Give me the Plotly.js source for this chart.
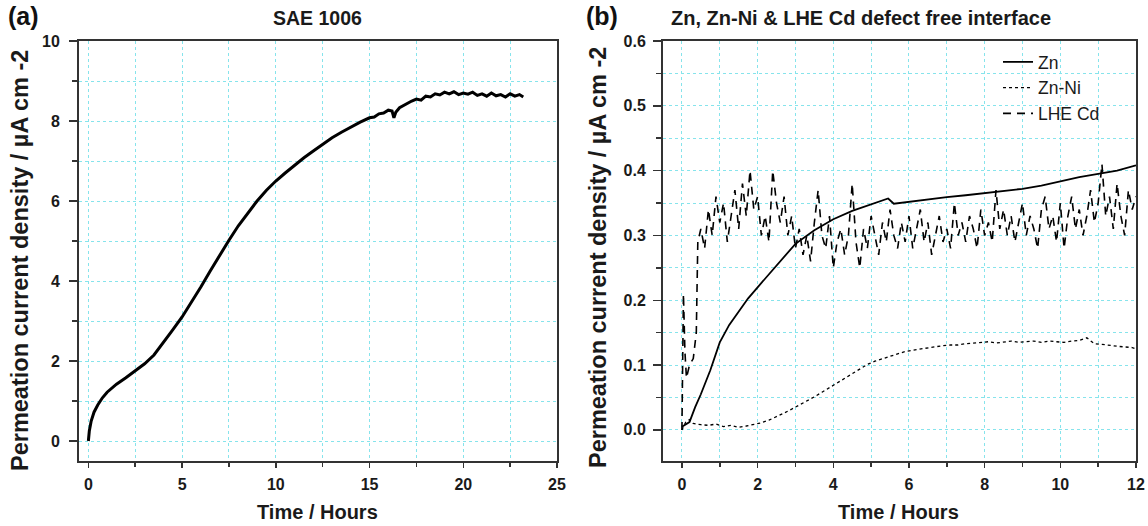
<!DOCTYPE html>
<html><head><meta charset="utf-8">
<script src="https://cdn.plot.ly/plotly-3.0.1.min.js"></script>
<style>html,body{margin:0;padding:0;background:#fff}#chart{width:1148px;height:526px}</style>
</head><body><div id="chart"></div>
<script>
// Panel (a) SAE 1006
const saeTime = [0,0.05,0.15,0.3,0.5,0.75,1,1.5,2,2.5,3,3.5,4,4.5,5,5.5,6,6.5,7,7.5,8,8.5,9,9.5,10,10.5,11,11.5,12,12.5,13,13.5,14,14.5,15,15.25,15.5,15.75,16,16.2,16.3,16.4,16.6,16.8,17,17.25,17.5,17.75,18,18.25,18.5,18.75,19,19.25,19.5,19.75,20,20.25,20.5,20.75,21,21.25,21.5,21.75,22,22.25,22.5,22.75,23,23.2];
const saeCurrent = [0,0.25,0.5,0.72,0.9,1.08,1.22,1.42,1.58,1.75,1.93,2.15,2.45,2.78,3.1,3.47,3.85,4.25,4.65,5.02,5.38,5.7,6.0,6.27,6.5,6.7,6.9,7.08,7.25,7.42,7.58,7.72,7.85,7.97,8.08,8.1,8.18,8.2,8.27,8.25,8.08,8.22,8.33,8.38,8.45,8.5,8.55,8.52,8.62,8.6,8.68,8.65,8.72,8.68,8.73,8.66,8.7,8.67,8.72,8.64,8.68,8.62,8.7,8.63,8.66,8.6,8.68,8.62,8.66,8.6];

// Panel (b)
const znTime = [0,0.1,0.2,0.35,0.5,0.75,1.0,1.25,1.5,1.75,2.0,2.5,3.0,3.5,4.0,4.5,5.0,5.3,5.45,5.6,6.0,6.5,7.0,7.5,8.0,8.5,9.0,9.5,10.0,10.5,11.0,11.5,12.0];
const znCurrent = [0.005,0.008,0.012,0.035,0.055,0.092,0.135,0.162,0.183,0.203,0.22,0.253,0.287,0.308,0.325,0.338,0.348,0.353,0.357,0.349,0.352,0.356,0.359,0.362,0.365,0.368,0.372,0.377,0.384,0.39,0.395,0.4,0.408];

const znniTime = [0,0.1,0.2,0.3,0.5,0.7,0.9,1.1,1.3,1.5,1.7,1.9,2.1,2.3,2.5,2.7,2.9,3.1,3.3,3.5,3.7,3.9,4.1,4.3,4.5,4.7,4.9,5.1,5.3,5.5,5.7,5.9,6.1,6.3,6.5,6.7,6.9,7.1,7.3,7.5,7.7,7.9,8.1,8.3,8.5,8.7,8.9,9.1,9.3,9.5,9.7,9.9,10.1,10.3,10.5,10.7,10.9,11.1,11.3,11.5,11.7,11.9,12.0];
const znniCurrent = [0.0,0.012,0.016,0.01,0.008,0.007,0.009,0.005,0.007,0.004,0.006,0.008,0.011,0.015,0.02,0.026,0.032,0.038,0.045,0.051,0.058,0.065,0.072,0.079,0.087,0.094,0.101,0.106,0.11,0.114,0.117,0.121,0.123,0.125,0.126,0.128,0.13,0.131,0.131,0.133,0.134,0.135,0.136,0.134,0.136,0.137,0.135,0.136,0.137,0.135,0.137,0.136,0.135,0.137,0.138,0.142,0.133,0.132,0.13,0.129,0.128,0.127,0.125];

const cdTime = [0,0.04,0.08,0.12,0.2,0.3,0.38,0.42,0.5,0.6,0.7,0.8,0.9,1.0,1.1,1.2,1.3,1.4,1.5,1.6,1.7,1.8,1.9,2.0,2.1,2.2,2.3,2.4,2.5,2.6,2.7,2.8,2.9,3.0,3.1,3.2,3.3,3.4,3.5,3.6,3.7,3.8,3.9,4.0,4.1,4.2,4.3,4.4,4.5,4.6,4.7,4.8,4.9,5.0,5.1,5.2,5.3,5.4,5.5,5.6,5.7,5.8,5.9,6.0,6.1,6.2,6.3,6.4,6.5,6.6,6.7,6.8,6.9,7.0,7.1,7.2,7.3,7.4,7.5,7.6,7.7,7.8,7.9,8.0,8.1,8.2,8.3,8.4,8.5,8.6,8.7,8.8,8.9,9.0,9.1,9.2,9.3,9.4,9.5,9.6,9.7,9.8,9.9,10.0,10.1,10.2,10.3,10.4,10.5,10.6,10.7,10.8,10.9,11.0,11.1,11.2,11.3,11.4,11.5,11.6,11.7,11.8,11.9,12.0];
const cdCurrent = [0,0.21,0.12,0.08,0.10,0.11,0.15,0.29,0.31,0.28,0.34,0.30,0.36,0.32,0.35,0.29,0.33,0.37,0.31,0.38,0.33,0.40,0.34,0.36,0.30,0.33,0.29,0.40,0.35,0.32,0.36,0.30,0.33,0.28,0.31,0.27,0.30,0.26,0.32,0.37,0.30,0.28,0.33,0.25,0.29,0.31,0.27,0.30,0.38,0.29,0.25,0.31,0.28,0.33,0.30,0.27,0.32,0.29,0.34,0.30,0.28,0.32,0.29,0.33,0.28,0.31,0.34,0.29,0.32,0.27,0.30,0.33,0.29,0.31,0.28,0.35,0.30,0.32,0.29,0.33,0.31,0.28,0.34,0.30,0.32,0.29,0.37,0.31,0.34,0.30,0.33,0.29,0.32,0.35,0.30,0.33,0.31,0.28,0.34,0.36,0.31,0.33,0.29,0.35,0.28,0.33,0.36,0.31,0.34,0.30,0.33,0.37,0.32,0.35,0.41,0.33,0.36,0.31,0.38,0.33,0.30,0.37,0.34,0.36];

const FONT = 'Liberation Sans, Arial, sans-serif';
const GRID = '#86e4ec';
const AX = '#333333';
const TXT = '#1a1a1a';

function axisCommon(extra) {
  return Object.assign({
    showline: true, linecolor: AX, linewidth: 2, mirror: true,
    zeroline: false, showgrid: true, gridcolor: GRID, griddash: 'dot', gridwidth: 1,
    tickfont: {family: FONT, size: 16, color: TXT, weight: 'bold'},
    tickcolor: AX, tickwidth: 1.5, automargin: false, fixedrange: true
  }, extra);
}
function minorX(d) { return {dtick: d, showgrid: true, gridcolor: GRID, griddash: 'dot', ticks: 'outside', ticklen: 4, tickcolor: AX, tickwidth: 1.5}; }
function minorY(d) { return {dtick: d, showgrid: true, gridcolor: GRID, griddash: 'dot', ticks: 'outside', ticklen: 5, tickcolor: AX, tickwidth: 1.5}; }

const traces = [
  {x: saeTime, y: saeCurrent, xaxis: 'x', yaxis: 'y', mode: 'lines', line: {color: '#000', width: 3}, showlegend: false},
  {x: znTime, y: znCurrent, xaxis: 'x2', yaxis: 'y2', mode: 'lines', name: 'Zn', line: {color: '#000', width: 1.8}},
  {x: znniTime, y: znniCurrent, xaxis: 'x2', yaxis: 'y2', mode: 'lines', name: 'Zn-Ni', line: {color: '#000', width: 1.3, dash: 'dot'}},
  {x: cdTime, y: cdCurrent, xaxis: 'x2', yaxis: 'y2', mode: 'lines', name: 'LHE Cd', line: {color: '#000', width: 1.6, dash: '8px,6px'}}
];

const yTitle = 'Permeation current density / µA cm -2';
const xTitle = 'Time / Hours';
const P = (px) => px / 1148;
const Q = (py) => 1 - py / 526;

const layout = {
  width: 1148, height: 526, margin: {l: 0, r: 0, t: 0, b: 0},
  paper_bgcolor: '#fff', plot_bgcolor: '#fff',
  font: {family: FONT, color: TXT},
  showlegend: true,
  legend: {x: P(998), y: Q(44), xanchor: 'left', yanchor: 'top', bgcolor: 'rgba(0,0,0,0)',
           font: {family: FONT, size: 17.5, color: TXT}, tracegroupgap: 0},
  xaxis: axisCommon({domain: [P(79), P(557)], range: [-0.5, 25], dtick: 5, ticks: 'outside', ticklen: 5,
    ticklabelstandoff: 3, minor: minorX(2.5), anchor: 'y'}),
  yaxis: axisCommon({domain: [Q(461), Q(41)], range: [-0.5, 10], dtick: 2, ticks: 'outside', ticklen: 8,
    ticklabelstandoff: 6, minor: minorY(1), anchor: 'x'}),
  xaxis2: axisCommon({domain: [P(663), P(1136)], range: [-0.5, 12], dtick: 2, ticks: 'outside', ticklen: 5,
    ticklabelstandoff: 3, minor: minorX(1), anchor: 'y2'}),
  yaxis2: axisCommon({domain: [Q(461), Q(41)], range: [-0.048, 0.6], dtick: 0.1, tickformat: '.1f', ticks: 'outside', ticklen: 8,
    ticklabelstandoff: 4, minor: minorY(0.05), anchor: 'x2'}),
  annotations: [
    {text: '(a)', xref: 'paper', yref: 'paper', x: P(6), y: Q(16), xanchor: 'left', yanchor: 'middle', showarrow: false,
     font: {family: FONT, size: 25, color: '#111', weight: 'bold'}},
    {text: 'SAE 1006', xref: 'paper', yref: 'paper', x: P(317), y: Q(18), xanchor: 'center', yanchor: 'middle', showarrow: false,
     font: {family: FONT, size: 19.5, color: TXT, weight: 'bold'}},
    {text: '(b)', xref: 'paper', yref: 'paper', x: P(584), y: Q(16), xanchor: 'left', yanchor: 'middle', showarrow: false,
     font: {family: FONT, size: 25, color: '#111', weight: 'bold'}},
    {text: 'Zn, Zn-Ni &amp; LHE Cd defect free interface', xref: 'paper', yref: 'paper', x: P(861), y: Q(18), xanchor: 'center', yanchor: 'middle', showarrow: false,
     font: {family: FONT, size: 20, color: TXT, weight: 'bold'}},
    {text: xTitle, xref: 'paper', yref: 'paper', x: P(317), y: Q(512), xanchor: 'center', yanchor: 'middle', showarrow: false,
     font: {family: FONT, size: 20, color: TXT, weight: 'bold'}},
    {text: xTitle, xref: 'paper', yref: 'paper', x: P(898), y: Q(512), xanchor: 'center', yanchor: 'middle', showarrow: false,
     font: {family: FONT, size: 20, color: TXT, weight: 'bold'}},
    {text: yTitle, xref: 'paper', yref: 'paper', x: P(20), y: Q(261), xanchor: 'center', yanchor: 'middle', textangle: -90, showarrow: false,
     font: {family: FONT, size: 23.5, color: TXT, weight: 'bold'}},
    {text: yTitle, xref: 'paper', yref: 'paper', x: P(598), y: Q(258), xanchor: 'center', yanchor: 'middle', textangle: -90, showarrow: false,
     font: {family: FONT, size: 23.5, color: TXT, weight: 'bold'}}
  ]
};

Plotly.newPlot('chart', traces, layout, {staticPlot: true, displayModeBar: false});
</script></body></html>
